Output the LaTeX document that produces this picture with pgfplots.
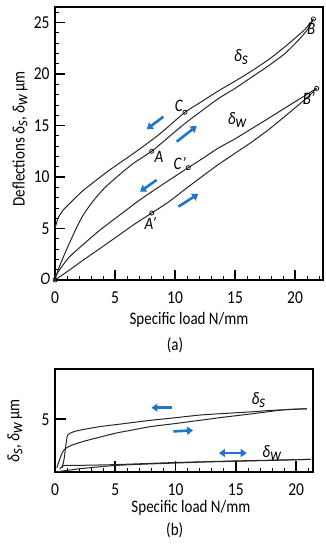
\documentclass[border=0pt]{standalone}
\usepackage{fontspec}
\setmainfont{Carlito}
\setsansfont{Carlito}
\usepackage{graphicx}
\usepackage{pgfplots}
\pgfplotsset{compat=1.18}
\usetikzlibrary{arrows.meta}
\definecolor{arrblue}{RGB}{31,117,200}
\newcommand{\st}[1]{\scalebox{1}[1.17]{#1}}
\newcommand{\ds}{\textit{δ\raisebox{-0.35ex}{s}}}
\newcommand{\dw}{\textit{δ\raisebox{-0.35ex}{w}}}
\tikzset{
  arr/.style={arrblue, line width=2.6pt, -{Triangle[length=6pt,width=8pt]}},
  darr/.style={arrblue, line width=2.6pt, {Triangle[length=6pt,width=8pt]}-{Triangle[length=6pt,width=8pt]}},
  lbl/.style={font=\fontsize{15}{16}\selectfont\itshape, inner sep=1pt},
}
\pgfplotsset{
  common/.style={
    scale only axis, clip=false,
    axis line style={line width=1.6pt},
    tick align=inside,
    xtick pos=left, ytick pos=left,
    major tick length=10pt, minor tick length=4pt,
    major tick style={line width=1.6pt, black},
    minor tick style={line width=0.7pt, black},
    /pgf/number format/assume math mode=true,
    tick label style={font=\fontsize{15.5}{16}\selectfont},
    label style={font=\fontsize{15}{16}\selectfont},
    xticklabel={\st{\pgfmathprintnumber{\tick}}},
    yticklabel={\st{\pgfmathprintnumber{\tick}}},
    xticklabel style={yshift=-8pt},
    yticklabel style={xshift=-2pt},
  },
  curve/.style={black!85, line width=1pt, no marks, smooth, tension=0.4},
  pts/.style={only marks, mark=o, mark size=2.1pt, black, mark options={fill=white, line width=0.7pt}},
}
\begin{document}
\begin{tikzpicture}
\path[use as bounding box] (0,0) rectangle (325pt,550pt);
% ---------------- (a) ----------------
\begin{axis}[common,
  at={(55pt,270pt)}, anchor=south west,
  width=268pt, height=273pt,
  xmin=0, xmax=22.33, ymin=0, ymax=26.5,
  xtick={0,5,10,15,20},
  minor xtick={1,2,...,22},
  ytick={5,10,15,20,25},
  minor ytick={1,2,...,26},
  xlabel={\st{Specific load N/mm}},
  ylabel={\st{Deflections \ds, \dw\ μm}},
  xlabel style={at={(axis description cs:0.5,-0.1465)}, anchor=center},
  ylabel style={at={(axis description cs:-0.1306,0.5165)}, anchor=center},
]
% delta_s loading
\addplot[curve] coordinates {
(0,0) (0.3,1.1) (0.83,2.6) (1.8,5.1) (2.4,6.4) (3.2,7.7) (4.1,8.9) (5.1,9.95) (6.5,11.3) (8.06,12.5)
(9.5,13.9) (10.83,15.2) (12.2,16.4) (13.6,17.6) (15,18.6) (16.4,19.7) (17.8,20.8)
(19.17,22.0) (20.3,23.3) (21.1,24.4) (21.53,25.34)};
% delta_s unloading
\addplot[curve] coordinates {
(21.53,25.34) (20.8,24.3) (19.17,22.65) (17.8,21.4) (16.4,20.3) (15,19.3) (13.6,18.35)
(12.2,17.3) (10.83,16.28) (8.75,14.2) (6.8,12.5) (4.58,10.7) (2.36,8.7) (1.2,7.4)
(0.69,6.8) (0.25,6.0) (0,5.0)};
% delta_w loading
\addplot[curve] coordinates {
(0,0) (1,0.8) (2.36,1.94) (3.8,3.1) (5.14,4.2) (6.6,5.4) (8.06,6.5) (9.5,7.6)
(10.83,8.8) (12.2,10.0) (13.6,11.2) (15,12.3) (16.4,13.4) (17.8,14.6) (19.17,15.9)
(20.3,17.0) (21.1,17.8) (21.8,18.6)};
% delta_w unloading
\addplot[curve] coordinates {
(21.8,18.6) (21.1,18.1) (19.17,16.7) (17.8,15.7) (16.4,14.7) (15,13.7) (13.6,12.8)
(12.3,11.8) (11.1,10.9) (9,9.3) (7.1,7.8) (5.5,6.4) (3.75,4.85) (2.5,3.6) (1.25,2.3)
(0.5,1.2) (0,0.3)};
% marked points
\addplot[pts] coordinates {(0,0) (8.06,12.5) (21.53,25.34) (10.83,16.28) (8.06,6.5) (21.8,18.6) (11.1,10.9)};
% point labels
\node[lbl, anchor=east] at (axis cs:-0.3,0.1) {\st{O}};
\node[lbl, anchor=north west] at (axis cs:8.2,12.6) {\st{A}};
\node[lbl, anchor=north] at (axis cs:21.35,25.0) {\st{B}};
\node[lbl, anchor=south east] at (axis cs:10.75,16.2) {\st{C}};
\node[lbl, anchor=north] at (axis cs:7.95,6.2) {\st{A’}};
\node[lbl, anchor=north east] at (axis cs:21.75,18.3) {\st{B’}};
\node[lbl, anchor=east] at (axis cs:11.0,11.35) {\st{C’}};
\node[lbl] at (axis cs:15.5,21.65) {\st{\ds}};
\node[lbl] at (axis cs:15.17,15.53) {\st{\dw}};
% arrows
\draw[arr] (axis cs:9.03,15.85) -- (axis cs:7.64,14.63);
\draw[arr] (axis cs:10.14,13.43) -- (axis cs:11.81,14.95);
\draw[arr] (axis cs:8.47,9.71) -- (axis cs:7.08,8.57);
\draw[arr] (axis cs:10.28,7.12) -- (axis cs:11.94,8.35);
\node[font=\fontsize{15}{16}\selectfont] at (axis description cs:0.448,-0.238) {\st{(a)}};
\end{axis}
% ---------------- (b) ----------------
\begin{axis}[common,
  at={(55pt,78pt)}, anchor=south west,
  width=258pt, height=103pt,
  xmin=0, xmax=21.4, ymin=0, ymax=9.77,
  xtick={0,5,10,15,20},
  minor xtick={1,2,...,21},
  ytick={5},
  major tick length=11pt,
  xlabel={\st{Specific load N/mm}},
  ylabel={\st{\ds, \dw\ μm}},
  xlabel style={at={(axis description cs:0.527,-0.3495)}, anchor=center},
  ylabel style={at={(axis description cs:-0.155,0.398)}, anchor=center},
]
% delta_s loading
\addplot[curve] coordinates {
(0.15,0.4) (0.45,1.4) (0.75,2.1) (1.3,2.5) (2.35,2.9) (3.7,3.3) (5.1,3.7) (6.5,4.0)
(7.9,4.3) (10,4.6) (12,4.9) (14,5.2) (16.2,5.5) (19,5.9) (20.9,6.0)};
% delta_s unloading
\addplot[curve] coordinates {
(20.9,6.0) (18,5.85) (16.2,5.7) (14,5.55) (12,5.4) (10,5.15) (7.9,4.9) (5.8,4.6)
(3.7,4.3) (2.2,4.0) (1.5,3.8) (1.05,3.5) (0.9,2.5) (0.75,1.2) (0.6,0.4)};
% delta_w loading
\addplot[curve] coordinates {
(0,0) (1,0.15) (2,0.3) (3,0.42) (5,0.62) (7.5,0.75) (10,0.85) (12.5,0.95)
(15,1.02) (18,1.1) (21.2,1.2)};
% delta_w unloading
\addplot[curve] coordinates {
(21.2,1.2) (15,1.05) (10,0.9) (7,0.78) (5,0.7) (3,0.65) (1.5,0.62) (0.7,0.6) (0.4,0.3)};
\node[lbl] at (axis cs:16.87,6.8) {\st{\ds}};
\node[lbl] at (axis cs:17.98,1.84) {\st{\dw}};
\draw[arr] (axis cs:9.68,6.1) -- (axis cs:8.0,6.1);
\draw[arr] (axis cs:9.82,3.85) -- (axis cs:11.45,3.95);
\draw[darr] (axis cs:13.6,1.8) -- (axis cs:15.9,1.8);
\node[font=\fontsize{15}{16}\selectfont] at (axis description cs:0.464,-0.563) {\st{(b)}};
\end{axis}
\end{tikzpicture}
\end{document}
